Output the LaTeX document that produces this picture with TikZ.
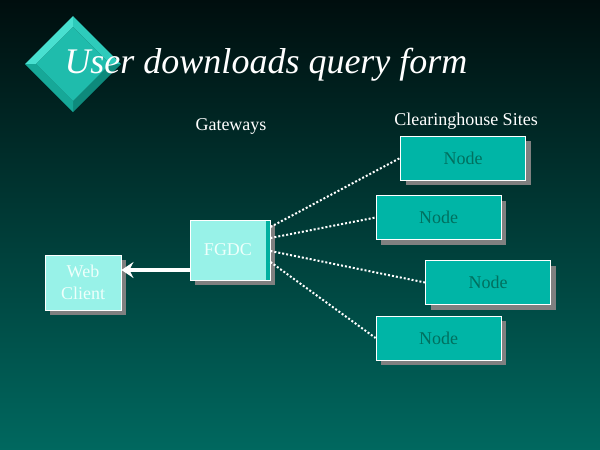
\documentclass[tikz,border=0pt]{standalone}
\usepackage{fontspec}
\setmainfont{Liberation Serif}
\usetikzlibrary{shadows,arrows.meta}
\definecolor{bgtop}{HTML}{000E0E}
\definecolor{bgbot}{HTML}{00685F}
\definecolor{sitefill}{HTML}{00B5A6}
\definecolor{sitetext}{HTML}{00705F}
\definecolor{gatefill}{HTML}{98F2E8}
\definecolor{gatestrip}{HTML}{00B0A0}
\definecolor{gatetext}{HTML}{EEFFFB}
\definecolor{boxshadow}{HTML}{808080}
\definecolor{gemface}{HTML}{1FBCAC}
\definecolor{gemlight}{HTML}{48E0D0}
\definecolor{gemmid}{HTML}{2ECBBB}
\definecolor{gemlow}{HTML}{16A898}
\definecolor{gemdark}{HTML}{0E8A7C}
\begin{document}
\begin{tikzpicture}[x=1pt,y=-1pt,
  boxshade/.style={drop shadow={shadow xshift=5pt, shadow yshift=-5pt, fill=boxshadow, opacity=1}},
  sitebox/.style={draw=white, line width=0.9pt, fill=sitefill, text=sitetext, minimum width=125pt, minimum height=44pt, inner sep=0pt, font=\fontsize{18}{20}\selectfont, boxshade},
  gatebox/.style={draw=white, line width=0.9pt, fill=gatefill, text=gatetext, inner sep=0pt, font=\fontsize{18}{22}\selectfont, align=center, boxshade},
  link/.style={white, line width=2pt, dash pattern=on 2pt off 2pt},
  label/.style={white, font=\fontsize{18}{20}\selectfont}]
\useasboundingbox (0,0) rectangle (600,450);
\shade[top color=bgtop, bottom color=bgbot] (0,0) rectangle (600,450);
% bevelled diamond
\fill[gemlight] (25,64) -- (73,16) -- (73,27) -- (36,64) -- cycle;
\fill[gemmid] (73,16) -- (121,64) -- (110,64) -- (73,27) -- cycle;
\fill[gemdark] (121,64) -- (73,112) -- (73,101) -- (110,64) -- cycle;
\fill[gemlow] (73,112) -- (25,64) -- (36,64) -- (73,101) -- cycle;
\fill[gemface] (73,27) -- (110,64) -- (73,101) -- (36,64) -- cycle;
\node[white, font=\fontsize{36}{40}\selectfont\itshape] (title) at (266,65) {User downloads query form};
\node[label] (gwlabel) at (231,126) {Gateways};
\node[label] (chlabel) at (466,121) {Clearinghouse Sites};
\node[gatebox, minimum width=80pt, minimum height=60pt,
  path picture={\fill[gatestrip] ([xshift=-4pt]path picture bounding box.north east) rectangle (path picture bounding box.south east);}] (fgdc) at (230,250) {FGDC\hspace{4pt}};
\node[gatebox, minimum width=76pt, minimum height=55pt] (web) at (83,282.5) {Web\\Client};
\node[sitebox] (site1) at (463,158) {Node};
\node[sitebox] (site2) at (438.5,217.5) {Node};
\node[sitebox] (site3) at (488,282.5) {Node};
\node[sitebox] (site4) at (438.5,338) {Node};
\draw[link] ([yshift=23pt]fgdc.east) -- (site1.west);
\draw[link] ([yshift=12pt]fgdc.east) -- (site2.west);
\draw[link] ([yshift=-1pt]fgdc.east) -- (site3.west);
\draw[link] ([yshift=-12pt]fgdc.east) -- (site4.west);
\draw[white, line width=3.5pt, -{Stealth[length=12pt, width=16pt, inset=4pt]}] ([yshift=-20pt]fgdc.west) coordinate (gwout) -- (gwout -| web.east);
\end{tikzpicture}
\end{document}
